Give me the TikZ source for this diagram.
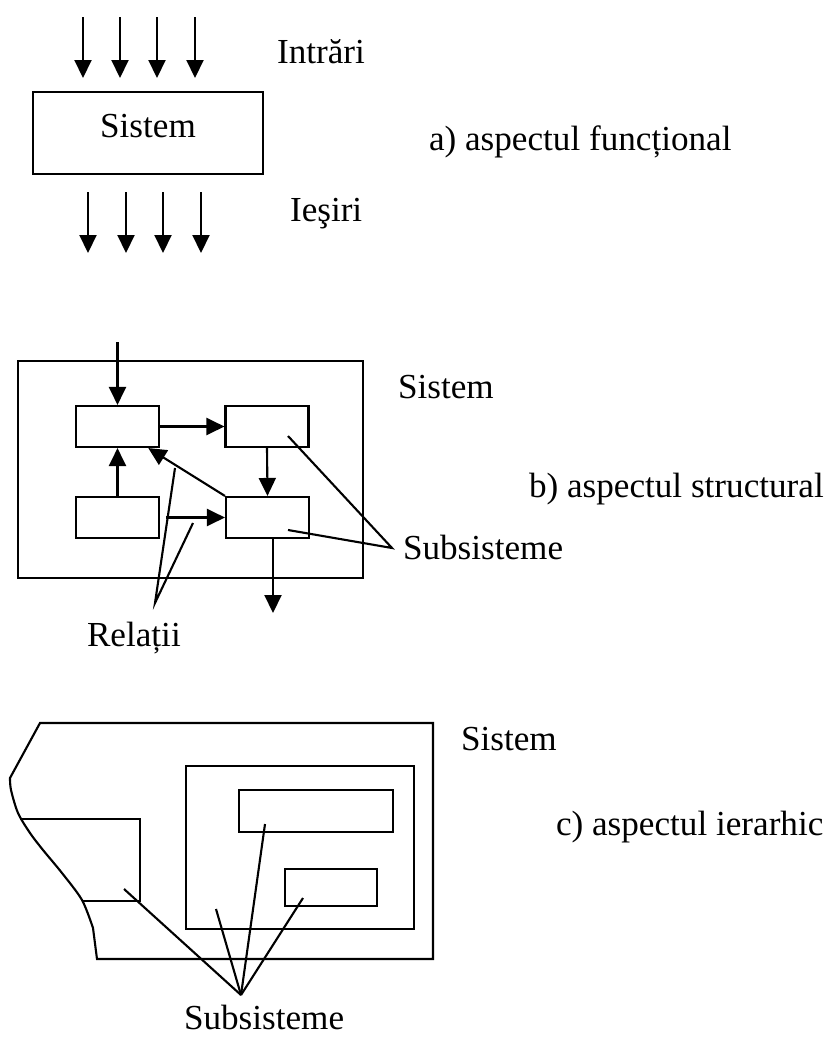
\documentclass[tikz,border=0pt]{standalone}
\usepackage{fontspec}
\setmainfont{Liberation Serif}
\usetikzlibrary{positioning, arrows.meta}

\tikzset{
    box/.style={draw, line width=1.2pt, inner sep=0pt},
    subbox/.style={box, minimum width=1.66cm, minimum height=0.82cm},
    arr/.style={line width=1.2pt, -{Triangle[width=0.34cm,length=0.36cm]}},
    lbl/.style={anchor=base west, inner sep=0pt, font=\fontsize{20}{24}\selectfont},
}

\begin{document}
\begin{tikzpicture}[x=0.02cm, y=-0.02cm, line width=1.2pt]
    \useasboundingbox (0,0) rectangle (830,1045);

    % a) functional view
    \node[box, minimum width=4.6cm, minimum height=1.64cm, text depth=0.28cm,
          font=\fontsize{20}{24}\selectfont] (sys) at (148,133) {Sistem};
    \foreach \x [count=\i] in {83,120,157,195}
    {
    \coordinate (in\i) at (\x,17);
    \coordinate (inE\i) at (\x,78);
    \draw[arr] (in\i) -- (inE\i);
    }
    \foreach \x [count=\i] in {88,126,163,201}
    {
    \coordinate (out\i) at (\x,192);
    \coordinate (outE\i) at (\x,253);
    \draw[arr] (out\i) -- (outE\i);
    }
    \node[lbl] (intrari) at (276,63) {Intrări};
    \node[lbl] (iesiri) at (289,221) {Ieşiri};
    \node[lbl] (aspA) at (428,150) {a) aspectul funcțional};

    % b) structural view
    \node[box, minimum width=6.9cm, minimum height=4.34cm] (sysB) at (190.5,469.5) {};
    \node[subbox] (b1) at (117.5,426.5) {};
    \node[subbox] (b2) at (267,426.5) {};
    \node[subbox] (b3) at (117.5,517.5) {};
    \node[subbox] (b4) at (267.5,517.5) {};
    \coordinate (bin) at (117.5,342);
    \coordinate (bout) at (273,613);
    \draw[arr] (bin) -- (b1.north);
    \draw[arr] (b1.east) -- (b2.west);
    \draw[arr] (b3.north) -- (b1.south);
    \draw[arr] (b2.south) -- (b4.north);
    \draw[arr] (b4.north west) -- (b1.-35);
    \draw[arr, shorten <=0.12cm] (b3.east) -- (b4.west);
    \draw[arr] (bout |- b4.south) -- (bout);

    \node[lbl] (sistB) at (397,398) {Sistem};
    \node[lbl] (aspB) at (528,497) {b) aspectul structural};
    \node[lbl] (subB) at (402,559) {Subsisteme};
    \node[lbl] (rel) at (86,646) {Relații};

    \coordinate (relP) at (155,603);
    \coordinate (rel1) at (175,468);
    \coordinate (rel2) at (193,523);
    \draw (rel1) -- (relP) -- (rel2);
    \coordinate (subP) at (392,548);
    \coordinate (sub1) at (288,436);
    \coordinate (sub2) at (288,530);
    \draw (sub1) -- (subP) -- (sub2);

    % c) hierarchical view
    \draw (40,723) -- (433,723) -- (433,959) -- (97,959) -- (93,928)
        -- plot[smooth] coordinates {(93,928) (82,900) (62,873) (43,850) (30,833) (18,813) (11,790) (10,778)}
        -- cycle;
    \coordinate (cutA) at (20,819);
    \coordinate (cutB) at (82,901);
    \draw (cutA) -- (140,819) -- (140,901) -- (cutB);
    \node[box, minimum width=4.56cm, minimum height=3.26cm] (inner) at (300,847.5) {};
    \node[box, minimum width=3.08cm, minimum height=0.84cm] (rA) at (316,811) {};
    \node[box, minimum width=1.84cm, minimum height=0.74cm] (rB) at (331,887.5) {};

    \node[lbl] (sistC) at (460,750) {Sistem};
    \node[lbl] (aspC) at (555,835) {c) aspectul ierarhic};
    \node[lbl] (subC) at (183,1029) {Subsisteme};

    \coordinate (subQ) at (241,995);
    \foreach \p in {(124,889), (216,909), (265,824), (303,898)}
    {
    \draw (subQ) -- \p;
    }
\end{tikzpicture}
\end{document}
